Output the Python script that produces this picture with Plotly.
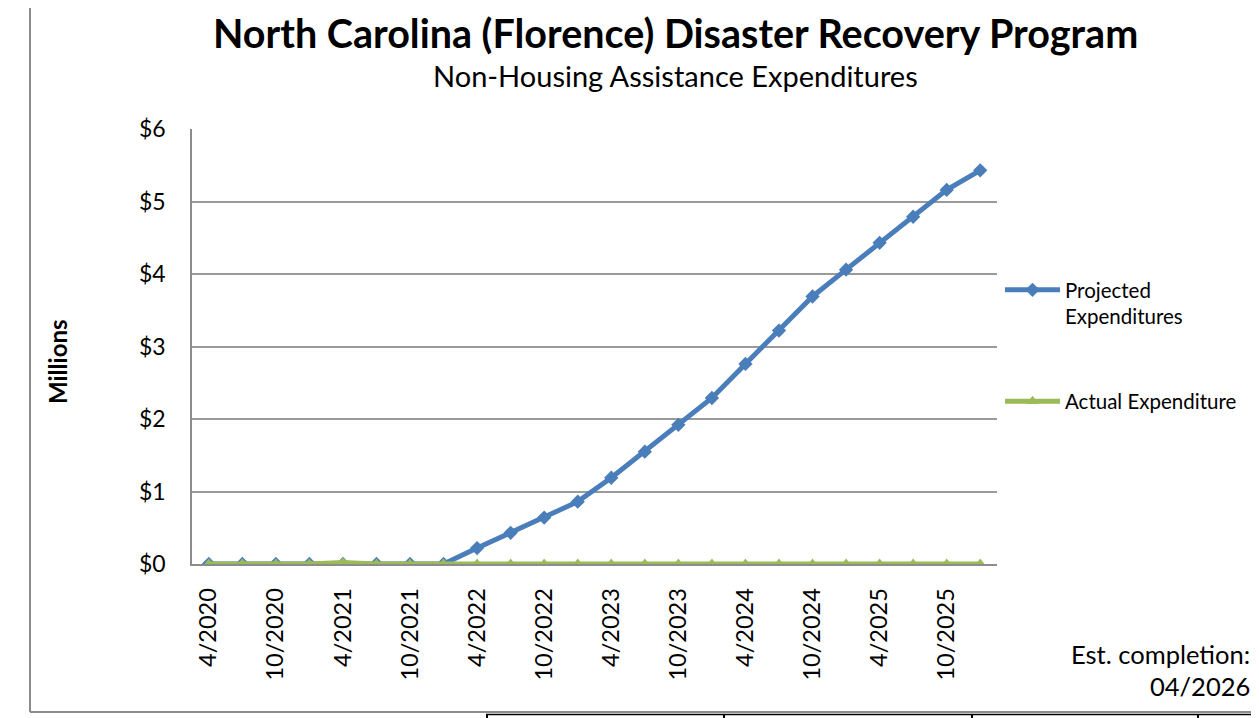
import plotly.graph_objects as go

periods = ["4/2020", "7/2020", "10/2020", "1/2021", "4/2021", "7/2021", "10/2021", "1/2022",
           "4/2022", "7/2022", "10/2022", "1/2023", "4/2023", "7/2023", "10/2023", "1/2024",
           "4/2024", "7/2024", "10/2024", "1/2025", "4/2025", "7/2025", "10/2025", "1/2026"]
projected = [0, 0, 0, 0, 0, 0, 0, 0,
             0.22, 0.43, 0.64, 0.86, 1.19, 1.55, 1.92, 2.29,
             2.76, 3.22, 3.69, 4.06, 4.43, 4.79, 5.16, 5.43]
actual = [0, 0, 0, 0, 0.02, 0, 0, 0,
          0, 0, 0, 0, 0, 0, 0, 0,
          0, 0, 0, 0, 0, 0, 0, 0]
tick_labels = ["4/2020", "10/2020", "4/2021", "10/2021", "4/2022", "10/2022", "4/2023",
               "10/2023", "4/2024", "10/2024", "4/2025", "10/2025"]
y_ticks = [0, 1, 2, 3, 4, 5, 6]
y_labels = ["$0", "$1", "$2", "$3", "$4", "$5", "$6"]

FONT = "Lato"
BLUE = "#4A7EBB"
GREEN = "#9BBB59"

# page body margin offset (8px) -> figure drawn 8px in from the window corner
OFF = 8
W, H = 1259 - OFF, 718 - OFF
L, R, T, B = 192 - OFF, 997 - OFF, 129 - OFF, 564 - OFF
pw, ph = R - L, B - T


def P(x, y):
    """reference window pixel -> paper coords"""
    fx, fy = x - OFF, y - OFF
    return (fx - L) / pw, (B - fy) / ph


fig = go.Figure()
fig.add_trace(go.Scatter(
    x=periods, y=projected, mode="lines+markers", name="Projected<br>Expenditures",
    line=dict(color=BLUE, width=5), marker=dict(symbol="diamond", size=11, color=BLUE),
    legendgroup="a"))
fig.add_trace(go.Scatter(
    x=periods, y=actual, mode="lines+markers", name="Actual Expenditure",
    line=dict(color=GREEN, width=5), marker=dict(symbol="triangle-up", size=11, color=GREEN),
    legendgroup="b"))

lx, ly = P(1000, 270)
anns = []
for text, x, y, size, xa, extra in [
    ("<b>North Carolina (Florence) Disaster Recovery Program</b>", 675, 32, 39.5, "center", {}),
    ("Non-Housing Assistance Expenditures", 675, 76, 29, "center", {}),
    ("Est. completion:", 1252, 654, 25.5, "right", {}),
    ("04/2026", 1252, 686, 25.5, "right", {}),
    ("<b>Millions</b>", 57, 362, 24, "center", {"textangle": -90}),
]:
    ax, ay = P(x, y)
    d = dict(text=text, x=ax, y=ay, xref="paper", yref="paper", showarrow=False,
             xanchor=xa, yanchor="middle", font=dict(size=size, family=FONT))
    d.update(extra)
    anns.append(d)

fig.update_layout(
    width=W, height=H,
    margin=dict(l=L, r=W - R, t=T, b=H - B, pad=0),
    paper_bgcolor="white", plot_bgcolor="white",
    font=dict(family=FONT, color="black"),
    showlegend=True,
    legend=dict(x=lx, y=ly, xanchor="left", yanchor="top", valign="top",
                font=dict(size=20.5, family=FONT), tracegroupgap=55,
                itemwidth=55, bgcolor="rgba(0,0,0,0)", traceorder="grouped"),
    xaxis=dict(type="category", range=[-0.5, 23.5], tickmode="array",
               tickvals=tick_labels, ticktext=tick_labels, tickangle=-90,
               tickfont=dict(size=23.5, family=FONT), showgrid=False,
               showline=True, linecolor="#8c8c8c", linewidth=1.5, ticks="outside",
               ticklen=13, tickcolor="rgba(0,0,0,0)", zeroline=False,
               layer="below traces"),
    yaxis=dict(range=[0, 6], tickvals=y_ticks, ticktext=y_labels,
               tickfont=dict(size=23, family=FONT), showgrid=True,
               gridcolor="#9a9a9a", gridwidth=1.5, showline=True,
               linecolor="#8c8c8c", linewidth=1.5, ticks="outside", ticklen=20,
               tickcolor="rgba(0,0,0,0)", zeroline=False, layer="below traces"),
    annotations=anns,
)

shapes = []


def seg(xa, ya, xb, yb, color, width):
    x0, y0 = P(xa, ya)
    x1, y1 = P(xb, yb)
    shapes.append(dict(type="line", xref="paper", yref="paper", x0=x0, y0=y0, x1=x1, y1=y1,
                       line=dict(color=color, width=width)))


# outer chart frame (gray)
seg(30, 0, 30, 712, "#8c8c8c", 2)
seg(30, 712, 1259, 712, "#8c8c8c", 2)
# black lines of the page below
seg(486, 714.5, 1259, 714.5, "black", 1.5)
for vx in [487, 724, 972, 1198]:
    seg(vx, 714, vx, 718, "black", 2)
fig.layout.shapes = shapes

fig.write_html("out.html")
